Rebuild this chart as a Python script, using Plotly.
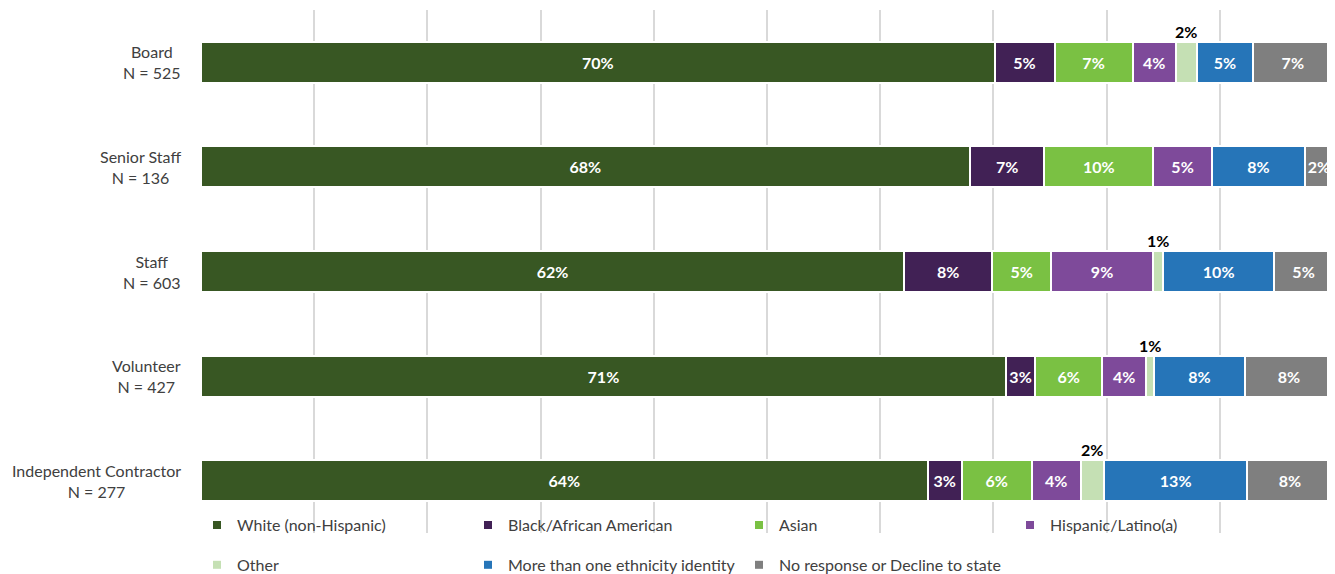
import plotly.graph_objects as go

categories = ["Board", "Senior Staff", "Staff", "Volunteer", "Independent Contractor"]
n_counts = [525, 136, 603, 427, 277]

series_names = ["White (non-Hispanic)", "Black/African American", "Asian", "Hispanic/Latino(a)",
                "Other", "More than one ethnicity identity", "No response or Decline to state"]

white = [70.1, 67.91, 62.1, 71.1, 64.2]
black = [5.3, 6.6, 7.8, 2.6, 3.0]
asian = [6.9, 9.6, 5.2, 5.9, 6.2]
hispanic = [3.8, 5.2, 9.0, 3.9, 4.3]
other = [1.9, 0.0, 0.9, 0.7, 2.1]
multi = [4.9, 8.2, 9.8, 8.0, 12.6]
no_resp = [7.1, 2.49, 5.2, 7.8, 7.6]

series_values = [white, black, asian, hispanic, other, multi, no_resp]
colors = ["#385723", "#412155", "#7AC143", "#7E4A9A", "#C5E0B4", "#2675B8", "#7F7F7F"]

FONT = "Lato"
TXT = "#404040"
fig = go.Figure()

for name, vals, col in zip(series_names, series_values, colors):
    is_other = name == "Other"
    fig.add_trace(go.Bar(
        y=categories, x=vals, orientation="h", name=name,
        marker=dict(color=col, line=dict(color="white", width=2)),
        text=[("" if is_other else f"{round(v)}%") for v in vals],
        textposition="inside", insidetextanchor="middle", textangle=0,
        constraintext="none",
        textfont=dict(family=FONT, size=16, color="white", weight="bold"),
        showlegend=False, hoverinfo="x+y+name",
    ))

# legend-only entries (small square swatches)
for i, (name, col) in enumerate(zip(series_names, colors)):
    fig.add_trace(go.Scatter(
        x=[None], y=[None], mode="markers", name=name,
        marker=dict(symbol="square", size=8, color=col),
        legend="legend" if i < 4 else "legend2",
    ))

annotations = []
# category labels (centered two-line)
for cat, n in zip(categories, n_counts):
    annotations.append(dict(
        x=0, xref="paper", y=cat, yref="y", xanchor="right", yanchor="middle",
        xshift=-18, text=f"{cat}<br>N = {n}", align="center", showarrow=False,
        font=dict(family=FONT, size=16, color=TXT),
    ))
# "Other" labels above the bar
for j, cat in enumerate(categories):
    v = other[j]
    if round(v) == 0:
        continue
    start = white[j] + black[j] + asian[j] + hispanic[j]
    annotations.append(dict(
        x=start + v / 2, xref="x", y=cat, yref="y", yshift=31,
        text=f"{round(v)}%", showarrow=False,
        font=dict(family=FONT, size=16, color="black", weight="bold"),
    ))

legend_common = dict(orientation="h", x=0, xanchor="left", yanchor="middle",
                     entrywidth=230, entrywidthmode="pixels", bgcolor="rgba(0,0,0,0)",
                     traceorder="normal", borderwidth=0, indentation=-4,
                     font=dict(family=FONT, size=16, color=TXT))

# page body has an 8px default margin: canvas is sized/offset to compensate
fig.update_layout(
    barmode="stack", bargap=0.608,
    width=1327, height=566,
    margin=dict(l=193, r=2, t=2, b=41, autoexpand=False),
    plot_bgcolor="white", paper_bgcolor="white",
    xaxis=dict(range=[0, 100.001], dtick=10, showgrid=True, gridcolor="#D9D9D9", gridwidth=2,
               showticklabels=False, zeroline=False, showline=False, fixedrange=True),
    yaxis=dict(autorange="reversed", showticklabels=False, showgrid=False, zeroline=False,
               showline=False),
    uniformtext=dict(minsize=16, mode="show"),
    annotations=annotations,
    legend=dict(y=0.015, **legend_common),
    legend2=dict(y=-0.061, **legend_common),
    showlegend=True,
)

fig.write_html("out.html")
